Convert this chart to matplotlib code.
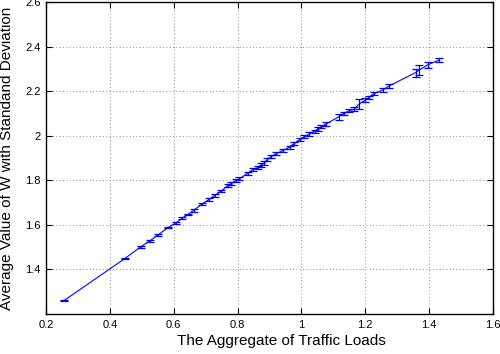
import matplotlib
matplotlib.use("Agg")
import matplotlib.pyplot as plt

# valori (sarcina agregata, W mediu, deviatia standard)
loads = [0.256, 0.447, 0.496, 0.525, 0.551, 0.582, 0.606, 0.627, 0.645, 0.662,
         0.690, 0.710, 0.728, 0.749, 0.770, 0.780, 0.796, 0.806, 0.832, 0.848,
         0.863, 0.872, 0.884, 0.892, 0.905, 0.921, 0.942, 0.963, 0.978, 0.994,
         1.009, 1.025, 1.041, 1.051, 1.062, 1.077, 1.117, 1.134, 1.150, 1.166,
         1.181, 1.200, 1.212, 1.228, 1.254, 1.275, 1.358, 1.369, 1.395, 1.431]
w_mean = [1.260, 1.449, 1.501, 1.528, 1.555, 1.588, 1.608, 1.631, 1.647, 1.665,
          1.695, 1.713, 1.732, 1.752, 1.777, 1.785, 1.800, 1.807, 1.832, 1.849,
          1.856, 1.868, 1.878, 1.892, 1.907, 1.919, 1.934, 1.949, 1.966, 1.982,
          1.996, 2.008, 2.020, 2.031, 2.041, 2.053, 2.085, 2.101, 2.113, 2.120,
          2.143, 2.160, 2.172, 2.190, 2.205, 2.224, 2.284, 2.295, 2.318, 2.340]
w_std = [0.003, 0.003, 0.004, 0.004, 0.004, 0.004, 0.005, 0.005, 0.004, 0.005,
         0.005, 0.006, 0.005, 0.005, 0.006, 0.007, 0.006, 0.006, 0.006, 0.007,
         0.007, 0.008, 0.007, 0.007, 0.008, 0.007, 0.008, 0.007, 0.008, 0.007,
         0.008, 0.007, 0.008, 0.008, 0.007, 0.008, 0.013, 0.008, 0.007, 0.008,
         0.022, 0.010, 0.008, 0.008, 0.008, 0.009, 0.018, 0.022, 0.014, 0.011]

xticks = [0.2, 0.4, 0.6, 0.8, 1.0, 1.2, 1.4, 1.6]
xtick_labels = ["0.2", "0.4", "0.6", "0.8", "1", "1.2", "1.4", "1.6"]
yticks = [1.4, 1.6, 1.8, 2.0, 2.2, 2.4, 2.6]
ytick_labels = ["1.4", "1.6", "1.8", "2", "2.2", "2.4", "2.6"]

plt.rcParams["font.family"] = ["Liberation Sans", "DejaVu Sans"]

fig = plt.figure(figsize=(5.0, 3.54), dpi=100)
ax = fig.add_axes([0.092, 0.113, 0.894, 0.881])

ax.errorbar(loads, w_mean, yerr=w_std, color="blue", linewidth=0.8,
            elinewidth=0.9, capsize=2.7, capthick=0.9)

ax.set_xlim(0.2, 1.6)
ax.set_ylim(1.2, 2.6)
ax.set_xticks(xticks)
ax.set_xticklabels(xtick_labels)
ax.set_yticks(yticks)
ax.set_yticklabels(ytick_labels)

# stil matlab: grila punctata, tick-uri spre interior pe toate laturile
ax.grid(True, linestyle=(0, (1, 3)), color="black", linewidth=0.6, alpha=0.6)
ax.tick_params(direction="in", top=True, right=True, length=4, width=0.8,
               labelsize=8, pad=4)
for s in ax.spines.values():
    s.set_linewidth(1.0)

# eticheta y e mai lunga decat axa, in original iese putin sus din figura
ax.set_xlabel("The Aggregate of Traffic Loads", fontsize=11)
ax.xaxis.set_label_coords(0.526, -0.065)
ax.set_ylabel("Average Value of W with Standand Deviation", fontsize=11)
ax.yaxis.set_label_coords(-0.072, 0.5)

fig.savefig("out.png", dpi=100)
